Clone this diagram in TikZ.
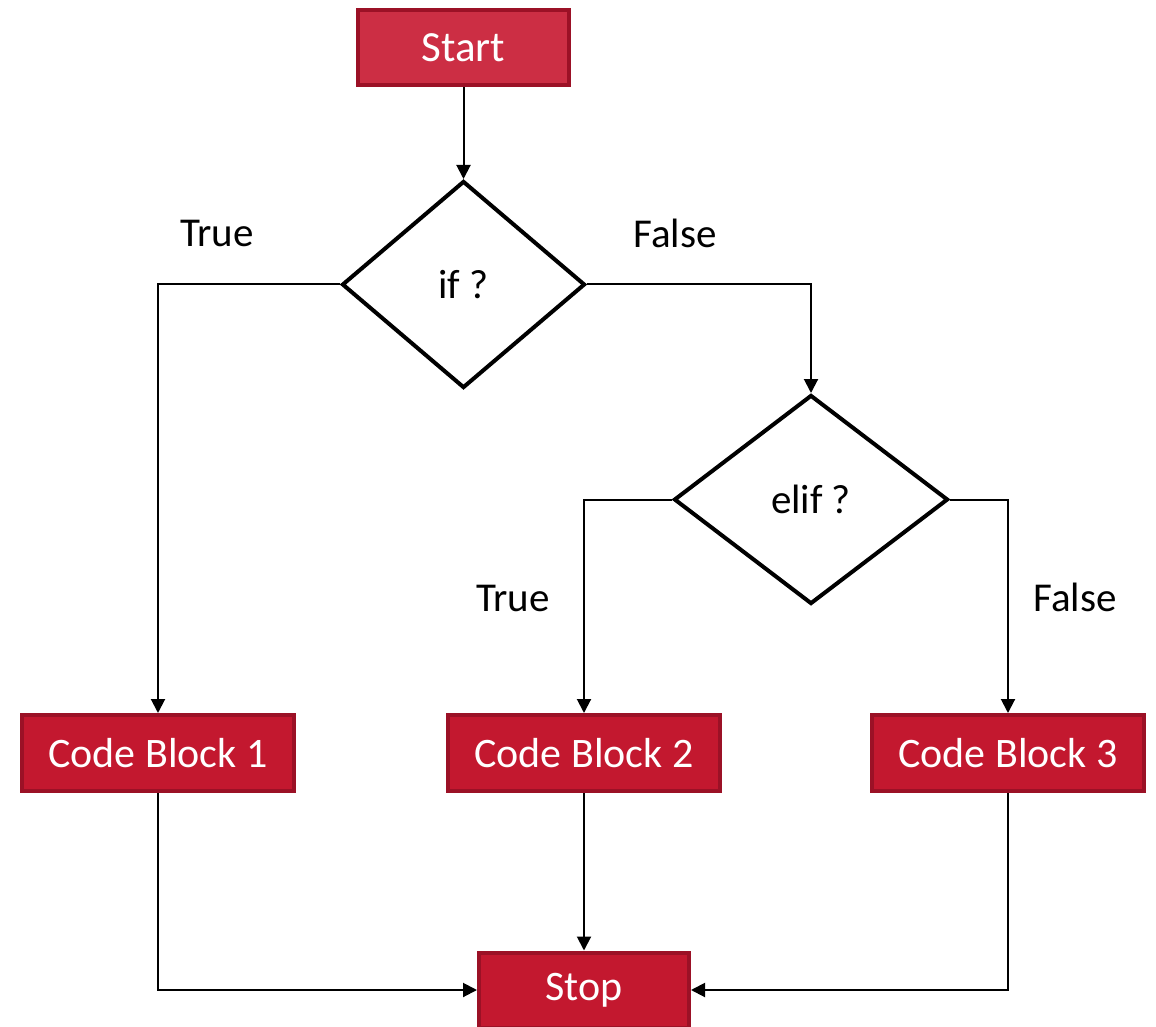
\documentclass[tikz,border=0pt]{standalone}
\usepackage{fontspec}
\setmainfont{Carlito}
\usetikzlibrary{shapes.geometric,arrows.meta}
\definecolor{boxfill}{HTML}{C3182F}
\definecolor{startfill}{HTML}{CC2E44}
\definecolor{boxline}{HTML}{9B1126}
\tikzset{
  px/.style={x=0.5pt,y=-0.5pt},
  redbox/.style={rectangle,draw=boxline,fill=boxfill,line width=2pt,text=white,
    minimum width=136pt,minimum height=38pt,inner sep=0pt,font=\fontsize{21}{25}\selectfont},
  decision/.style={diamond,draw=black,line width=2pt,inner sep=0pt,font=\fontsize{20.5}{25}\selectfont},
  lbl/.style={font=\fontsize{20.5}{25}\selectfont,inner sep=0pt},
  conn/.style={draw=black,line width=1pt,-{Triangle[length=7pt,width=7pt]}}
}
\begin{document}
\begin{tikzpicture}[px]
\useasboundingbox (0,0) rectangle (1156,1027);
\node[redbox,fill=startfill,minimum width=105.5pt,minimum height=37.5pt,font=\fontsize{21.5}{25}\selectfont] (start) at (463.5,47.5) {Start};
\node[decision,minimum width=121.5pt,minimum height=103.5pt] (if) at (463.5,284.5) {if ?};
\node[decision,minimum width=137pt,minimum height=104.5pt] (elif) at (811,499.5) {elif ?};
\node[redbox] (cb1) at (158,753) {Code Block 1};
\node[redbox] (cb2) at (584,753) {Code Block 2};
\node[redbox] (cb3) at (1008,753) {Code Block 3};
\node[redbox,minimum width=105pt,minimum height=37.5pt] (stop) at (584,990) {Stop};
\node[lbl] (t1) at (217,233) {True};
\node[lbl] (f1) at (675,233) {False};
\node[lbl] (t2) at (513,598) {True};
\node[lbl] (f2) at (1075,597) {False};
\draw[conn] (start.south) -- (if.north);
\draw[conn] (if.west) -| (cb1.north);
\draw[conn] (if.east) -| (elif.north);
\draw[conn] (elif.west) -| (cb2.north);
\draw[conn] (elif.east) -| (cb3.north);
\draw[conn] (cb1.south) |- (stop.west);
\draw[conn] (cb2.south) -- (stop.north);
\draw[conn] (cb3.south) |- (stop.east);
\end{tikzpicture}
\end{document}
